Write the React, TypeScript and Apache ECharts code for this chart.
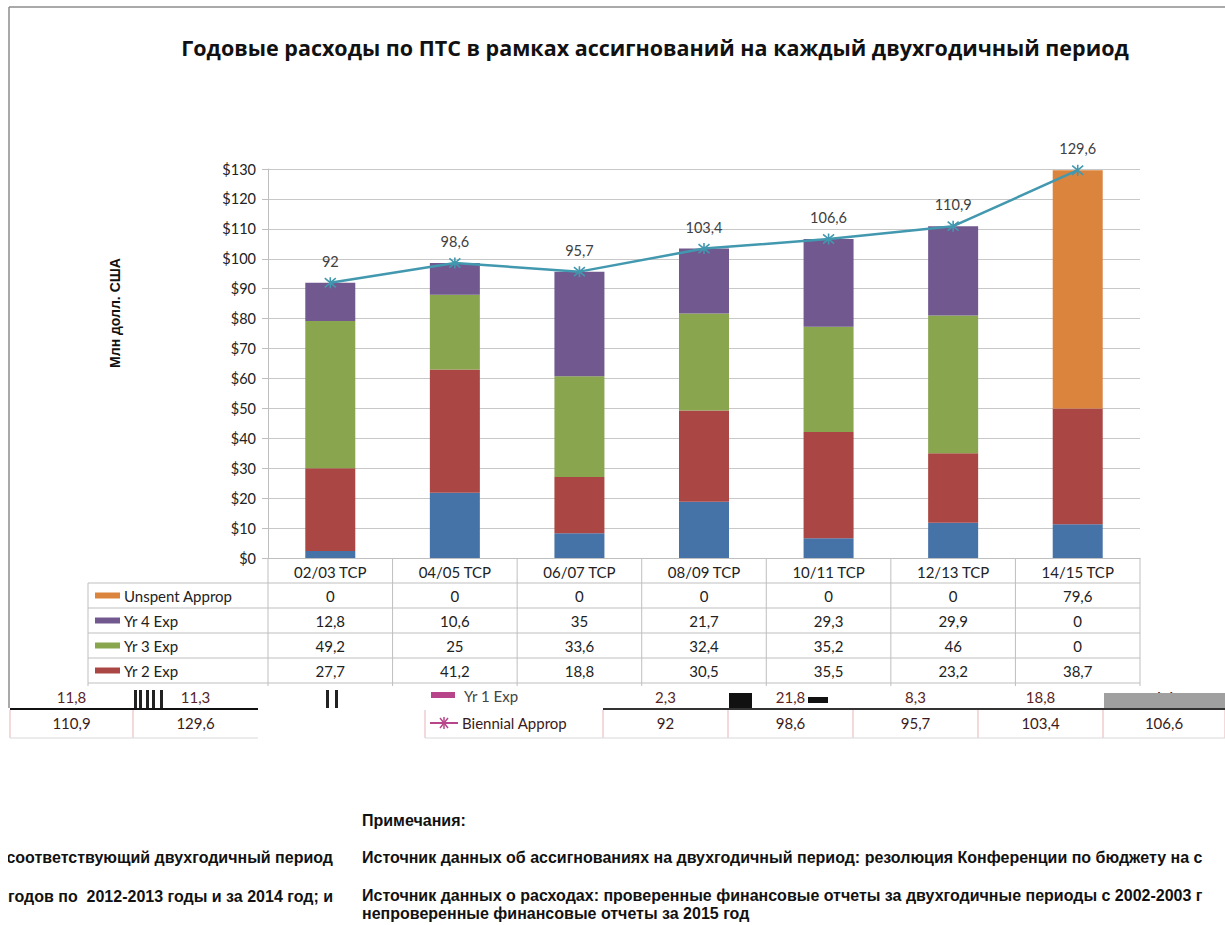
import React, { useEffect, useRef } from "react";
import * as echarts from "echarts";

const categories = ["02/03 TCP", "04/05 TCP", "06/07 TCP", "08/09 TCP", "10/11 TCP", "12/13 TCP", "14/15 TCP"];
const yr1Exp = [2.3, 21.8, 8.3, 18.8, 6.6, 11.8, 11.3];
const yr2Exp = [27.7, 41.2, 18.8, 30.5, 35.5, 23.2, 38.7];
const yr3Exp = [49.2, 25, 33.6, 32.4, 35.2, 46, 0];
const yr4Exp = [12.8, 10.6, 35, 21.7, 29.3, 29.9, 0];
const unspentApprop = [0, 0, 0, 0, 0, 0, 79.6];
const biennialApprop = [92, 98.6, 95.7, 103.4, 106.6, 110.9, 129.6];

const Y_MIN = 0;
const Y_MAX = 130;
const Y_STEP = 10;

const COLORS = {
  yr1: "#4572A7",
  yr2: "#AA4643",
  yr3: "#89A54E",
  yr4: "#71588F",
  unspent: "#DB843D",
  line: "#4198AF",
  glitch: "#B8458A",
};

const fmt = (v: number) => String(v).replace(".", ",");

const TITLE = "Годовые расходы по ПТС в рамках ассигнований на каждый двухгодичный период";
const Y_NAME = "Млн долл. США";

// layout constants
const GRID_L = 268;
const GRID_R = 1140;
const GRID_T = 169;
const GRID_B = 558;
const ROW_H = 25;
const TABLE_L = 88;
const FONT = "Lato, 'Open Sans', sans-serif";
const NOTE_FONT = "'Liberation Sans', Arial, sans-serif";
const TFS = 15;

export default function App() {
  const ref = useRef<HTMLDivElement>(null);

  useEffect(() => {
    if (!ref.current) return;
    const chart = echarts.init(ref.current, null, { renderer: "svg" });
    const n = categories.length;
    const colW = (GRID_R - GRID_L) / n;
    const g: any[] = [];
    const lineColor = "#BFBFBF";
    const hline = (x1: number, x2: number, y: number, stroke = lineColor, w = 1) =>
      g.push({ type: "line", shape: { x1, y1: y, x2, y2: y }, style: { stroke, lineWidth: w }, silent: true });
    const vline = (x: number, y1: number, y2: number, stroke = lineColor, w = 1) =>
      g.push({ type: "line", shape: { x1: x, y1, x2: x, y2 }, style: { stroke, lineWidth: w }, silent: true });
    const txt = (x: number, y: number, text: string, opts: any = {}) =>
      g.push({
        type: "text",
        x,
        y,
        silent: true,
        z: opts.z || 0,
        style: {
          text,
          fill: opts.fill || "#222",
          font: opts.font || `${TFS}px ${FONT}`,
          align: opts.align || "center",
          verticalAlign: "middle",
        },
        rotation: opts.rotation || 0,
      });

    // outer frame
    hline(9, 1225, 7, "#8C8C8C", 1.5);
    vline(9, 7, 708, "#8C8C8C", 1.5);

    // y axis name
    txt(115, 313, Y_NAME, { font: `bold 14px ${NOTE_FONT}`, rotation: Math.PI / 2, fill: "#111" });

    // data table
    const rows = [
      { name: "Unspent Approp", data: unspentApprop, color: COLORS.unspent },
      { name: "Yr 4 Exp", data: yr4Exp, color: COLORS.yr4 },
      { name: "Yr 3 Exp", data: yr3Exp, color: COLORS.yr3 },
      { name: "Yr 2 Exp", data: yr2Exp, color: COLORS.yr2 },
    ];
    const tableTop = GRID_B + ROW_H;
    for (let r = 0; r <= rows.length; r++) hline(TABLE_L, GRID_R, tableTop + r * ROW_H);
    vline(TABLE_L, tableTop, 700);
    for (let c = 0; c <= n; c++) vline(GRID_L + c * colW, GRID_B, 692);
    rows.forEach((row, r) => {
      const yc = tableTop + r * ROW_H + ROW_H / 2;
      g.push({ type: "rect", shape: { x: 95, y: yc - 3, width: 25, height: 6 }, style: { fill: row.color }, silent: true });
      txt(124, yc, row.name, { align: "left" });
      row.data.forEach((v, c) => txt(GRID_L + c * colW + colW / 2, yc, fmt(v)));
    });

    // shifted (broken) bottom rows
    g.push({ type: "rect", shape: { x: 10, y: 686, width: 1215, height: 52 }, style: { fill: "#fff" }, silent: true });
    const shiftedCols: number[][] = [
      [10, 133],
      [133, 258],
      [603, 728],
      [728, 853],
      [853, 978],
      [978, 1103],
      [1103, 1225],
    ];
    const order = [5, 6, 0, 1, 2, 3, 4];
    const yr1Y = 697;
    const bienY = 723;
    order.forEach((ci, k) => {
      const [a, b] = shiftedCols[k];
      txt((a + b) / 2, yr1Y, fmt(yr1Exp[ci]), { fill: "#5a1f1f" });
      txt((a + b) / 2, bienY, fmt(biennialApprop[ci]), { fill: "#3a1a1a" });
      vline(a, 710, 738, "#E7B3B3");
    });
    vline(1225, 710, 738, "#E7B3B3");
    vline(425, 710, 738, "#E7B3B3");
    hline(10, 258, 738, "#D9D9D9");
    hline(425, 1225, 738, "#D9D9D9");
    // glitch blocks
    g.push({ type: "rect", shape: { x: 729, y: 693, width: 23, height: 15 }, style: { fill: "#111" }, silent: true });
    g.push({ type: "rect", shape: { x: 1104, y: 693, width: 121, height: 15 }, style: { fill: "#A0A0A0" }, silent: true });
    g.push({ type: "rect", shape: { x: 808, y: 697, width: 20, height: 6 }, style: { fill: "#111" }, silent: true });
    [134, 139, 146, 152, 160, 326, 335].forEach((x) =>
      g.push({ type: "rect", shape: { x, y: 690, width: 3, height: 18 }, style: { fill: "#222" }, silent: true })
    );
    hline(10, 258, 709, "#111", 2);
    hline(603, 1225, 709, "#333", 2);
    // Yr 1 legend (shifted)
    g.push({ type: "rect", shape: { x: 431, y: 692, width: 24, height: 6 }, style: { fill: COLORS.glitch }, silent: true });
    txt(464, 696, "Yr 1 Exp", { align: "left", fill: "#444" });
    // Biennial legend
    hline(430, 458, 723, COLORS.glitch, 2);
    g.push({
      type: "polyline",
      shape: { points: [[440, 718], [448, 728]] },
      style: { stroke: COLORS.glitch, lineWidth: 1.5 },
      silent: true,
    });
    g.push({
      type: "polyline",
      shape: { points: [[448, 718], [440, 728]] },
      style: { stroke: COLORS.glitch, lineWidth: 1.5 },
      silent: true,
    });
    vline(444, 717, 729, COLORS.glitch, 1.5);
    txt(462, 723, "Biennial Approp", { align: "left", fill: "#3a1a1a" });

    // notes
    const nf = `bold 16px ${NOTE_FONT}`;
    txt(362, 820, "Примечания:", { align: "left", font: nf, fill: "#111" });
    txt(333, 857, "соответствующий двухгодичный период", { align: "right", font: nf, fill: "#111" });
    txt(333, 896, "годов по  2012-2013 годы и за 2014 год; и", { align: "right", font: nf, fill: "#111" });
    g.push({ type: "rect", shape: { x: 0, y: 840, width: 8, height: 70 }, style: { fill: "#fff" }, silent: true, z: 10 });
    txt(362, 857, "Источник данных об ассигнованиях на двухгодичный период: резолюция Конференции по бюджету на с", {
      align: "left",
      font: nf,
      fill: "#111",
    });
    txt(362, 895, "Источник данных о расходах: проверенные финансовые отчеты за двухгодичные периоды с 2002-2003 г", {
      align: "left",
      font: nf,
      fill: "#111",
    });
    txt(362, 913, "непроверенные финансовые отчеты за 2015 год", { align: "left", font: nf, fill: "#111" });

    const barSeries = (name: string, data: number[], color: string) => ({
      name,
      type: "bar",
      stack: "total",
      data,
      barWidth: 50,
      itemStyle: { color },
      emphasis: { disabled: true },
    });

    chart.setOption({
      animation: false,
      backgroundColor: "#fff",
      title: {
        text: TITLE,
        left: 650,
        top: 31,
        textAlign: "center",
        textStyle: { fontFamily: "'Open Sans', sans-serif", fontWeight: "bold", fontSize: 21.5, color: "#111" },
      },
      grid: { left: GRID_L, right: 1225 - GRID_R, top: GRID_T, bottom: 925 - GRID_B },
      xAxis: {
        type: "category",
        data: categories,
        axisLine: { lineStyle: { color: lineColor } },
        axisTick: { show: false },
        axisLabel: { margin: 6, fontFamily: FONT, fontSize: TFS, color: "#222" },
      },
      yAxis: {
        type: "value",
        min: Y_MIN,
        max: Y_MAX,
        interval: Y_STEP,
        axisLine: { show: true, lineStyle: { color: lineColor } },
        axisTick: { show: true, length: 6, lineStyle: { color: lineColor } },
        splitLine: { lineStyle: { color: "#C8C8C8" } },
        axisLabel: { formatter: (v: number) => "$" + v, fontFamily: FONT, fontSize: 14.5, color: "#222", margin: 12 },
      },
      series: [
        barSeries("Yr 1 Exp", yr1Exp, COLORS.yr1),
        barSeries("Yr 2 Exp", yr2Exp, COLORS.yr2),
        barSeries("Yr 3 Exp", yr3Exp, COLORS.yr3),
        barSeries("Yr 4 Exp", yr4Exp, COLORS.yr4),
        barSeries("Unspent Approp", unspentApprop, COLORS.unspent),
        {
          name: "Biennial Approp",
          type: "line",
          data: biennialApprop,
          symbol: "path://M0,0L10,10M10,0L0,10M5,-1L5,11",
          symbolSize: 11,
          lineStyle: { color: COLORS.line, width: 2.5 },
          itemStyle: { color: "none", borderColor: COLORS.line, borderWidth: 1.6 },
          label: {
            show: true,
            position: "top",
            distance: 6,
            formatter: (p: any) => fmt(p.value),
            fontFamily: FONT,
            fontSize: 14.5,
            color: "#404040",
          },
          emphasis: { disabled: true },
          z: 5,
        },
      ],
      graphic: { elements: g },
    });
    return () => chart.dispose();
  }, []);

  return <div ref={ref} style={{ position: "absolute", left: 0, top: 0, width: 1225, height: 925 }} />;
}
